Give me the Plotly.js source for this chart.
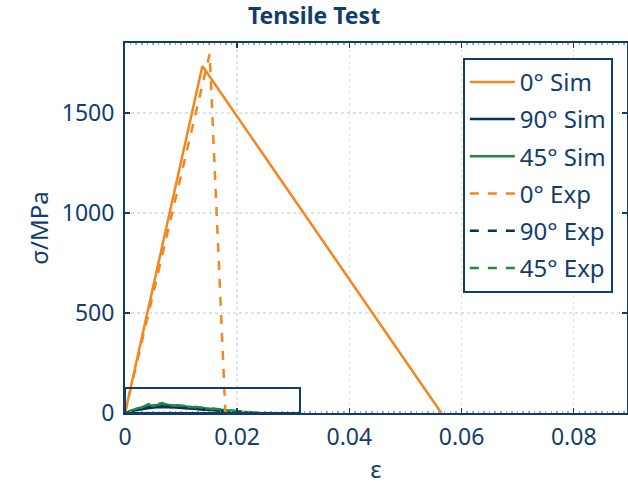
<!DOCTYPE html>
<html><head><meta charset="utf-8">
<script src="https://cdn.plot.ly/plotly-3.0.1.min.js"></script>
<style>body{margin:0;background:#fff}#chart{width:628px;height:493px}</style>
</head><body><div id="chart"></div>
<script>
// Data
const sim0X = [0, 0.0138, 0.0564];
const sim0Y = [0, 1735, 0];
const sim90X = [0, 0.002, 0.004, 0.006, 0.009, 0.012, 0.015, 0.018, 0.021, 0.0225];
const sim90Y = [0, 14, 24, 30, 28, 22, 16, 9, 3, 0];
const sim45X = [0, 0.002, 0.004, 0.0065, 0.009, 0.012, 0.015, 0.018, 0.021, 0.024];
const sim45Y = [0, 22, 35, 42, 38, 31, 23, 14, 6, 0];
const exp0X = [0, 0.0151, 0.0179];
const exp0Y = [0, 1795, 0];
const exp90X = [0, 0.002, 0.0035, 0.005, 0.0068, 0.009, 0.012, 0.016, 0.02, 0.023];
const exp90Y = [0, 16, 26, 30, 33, 29, 23, 14, 5, 0];
const exp45X = [0, 0.0015, 0.003, 0.0042, 0.0048, 0.0056, 0.0066, 0.0072, 0.009, 0.012, 0.016, 0.02, 0.0245];
const exp45Y = [0, 14, 28, 44, 34, 42, 50, 44, 40, 33, 21, 9, 0];
const insetX = [0, 0.0312];
const insetY = [0, 125];
const xTicks = [0, 0.02, 0.04, 0.06, 0.08];
const xTickText = ['0', '0.02', '0.04', '0.06', '0.08'];
const yTicks = [0, 500, 1000, 1500];

const orange = '#f5861f', navy = '#0b2f5c', green = '#1f8a3e', axisCol = '#123d6b';
function tr(x, y, name, color, dash) {
  return {x: x, y: y, name: name, legendgroup: name, type: 'scatter', mode: 'lines',
    line: {color: color, width: 2.5, dash: dash || 'solid'}};
}
const data = [
  tr(sim0X, sim0Y, '0° Sim', orange),
  tr(sim90X, sim90Y, '90° Sim', navy),
  tr(sim45X, sim45Y, '45° Sim', green),
  tr(exp0X, exp0Y, '0° Exp', orange, 'dash'),
  tr(exp90X, exp90Y, '90° Exp', navy, 'dash'),
  tr(exp45X, exp45Y, '45° Exp', green, 'dash')
];
const font = {family: 'Noto Sans, Open Sans, sans-serif', color: axisCol};
const layout = {
  width: 628, height: 493,
  margin: {l: 125, r: 1, t: 43, b: 80},
  paper_bgcolor: '#fff', plot_bgcolor: '#fff',
  font: Object.assign({size: 23}, font),
  title: {text: '<b>Tensile Test</b>', x: 0.5, xref: 'container', xanchor: 'center',
    y: 0.968, yanchor: 'middle',
    font: Object.assign({size: 23}, font)},
  xaxis: {range: [0, 0.0895], tickvals: xTicks, ticktext: xTickText,
    showline: true, linecolor: axisCol, linewidth: 2, mirror: 'ticks',
    ticks: 'inside', ticklen: 5, tickwidth: 1.5, tickcolor: axisCol,
    showgrid: true, gridcolor: '#dde2ea', griddash: 'dot', gridwidth: 1.5,
    zeroline: false, tickfont: {size: 23}, ticklabelstandoff: 2,
    minor: {dtick: 0.001, ticks: 'inside', ticklen: 2, tickcolor: '#9aa8bb', showgrid: false},
    title: {text: 'ε', font: {size: 24}, standoff: 4}},
  yaxis: {range: [0, 1850], tickvals: yTicks,
    showline: true, linecolor: axisCol, linewidth: 2, mirror: 'ticks',
    ticks: 'inside', ticklen: 5, tickwidth: 1.5, tickcolor: axisCol,
    showgrid: true, gridcolor: '#dde2ea', griddash: 'dot', gridwidth: 1.5,
    zeroline: false, tickfont: {size: 23}, ticklabelstandoff: 4,
    title: {text: 'σ/MPa', font: {size: 24}, standoff: 6}},
  legend: {x: 0.673, y: 0.96, xanchor: 'left', yanchor: 'top',
    bordercolor: axisCol, borderwidth: 2, bgcolor: '#fff',
    font: Object.assign({size: 24}, font), tracegroupgap: 3, itemwidth: 45},
  shapes: [{type: 'rect', xref: 'x', yref: 'y', x0: insetX[0], x1: insetX[1], y0: insetY[0], y1: insetY[1],
    line: {color: axisCol, width: 2}, layer: 'above'}],
  showlegend: true
};
Plotly.newPlot('chart', data, layout, {displayModeBar: false, staticPlot: true});
</script></body></html>
